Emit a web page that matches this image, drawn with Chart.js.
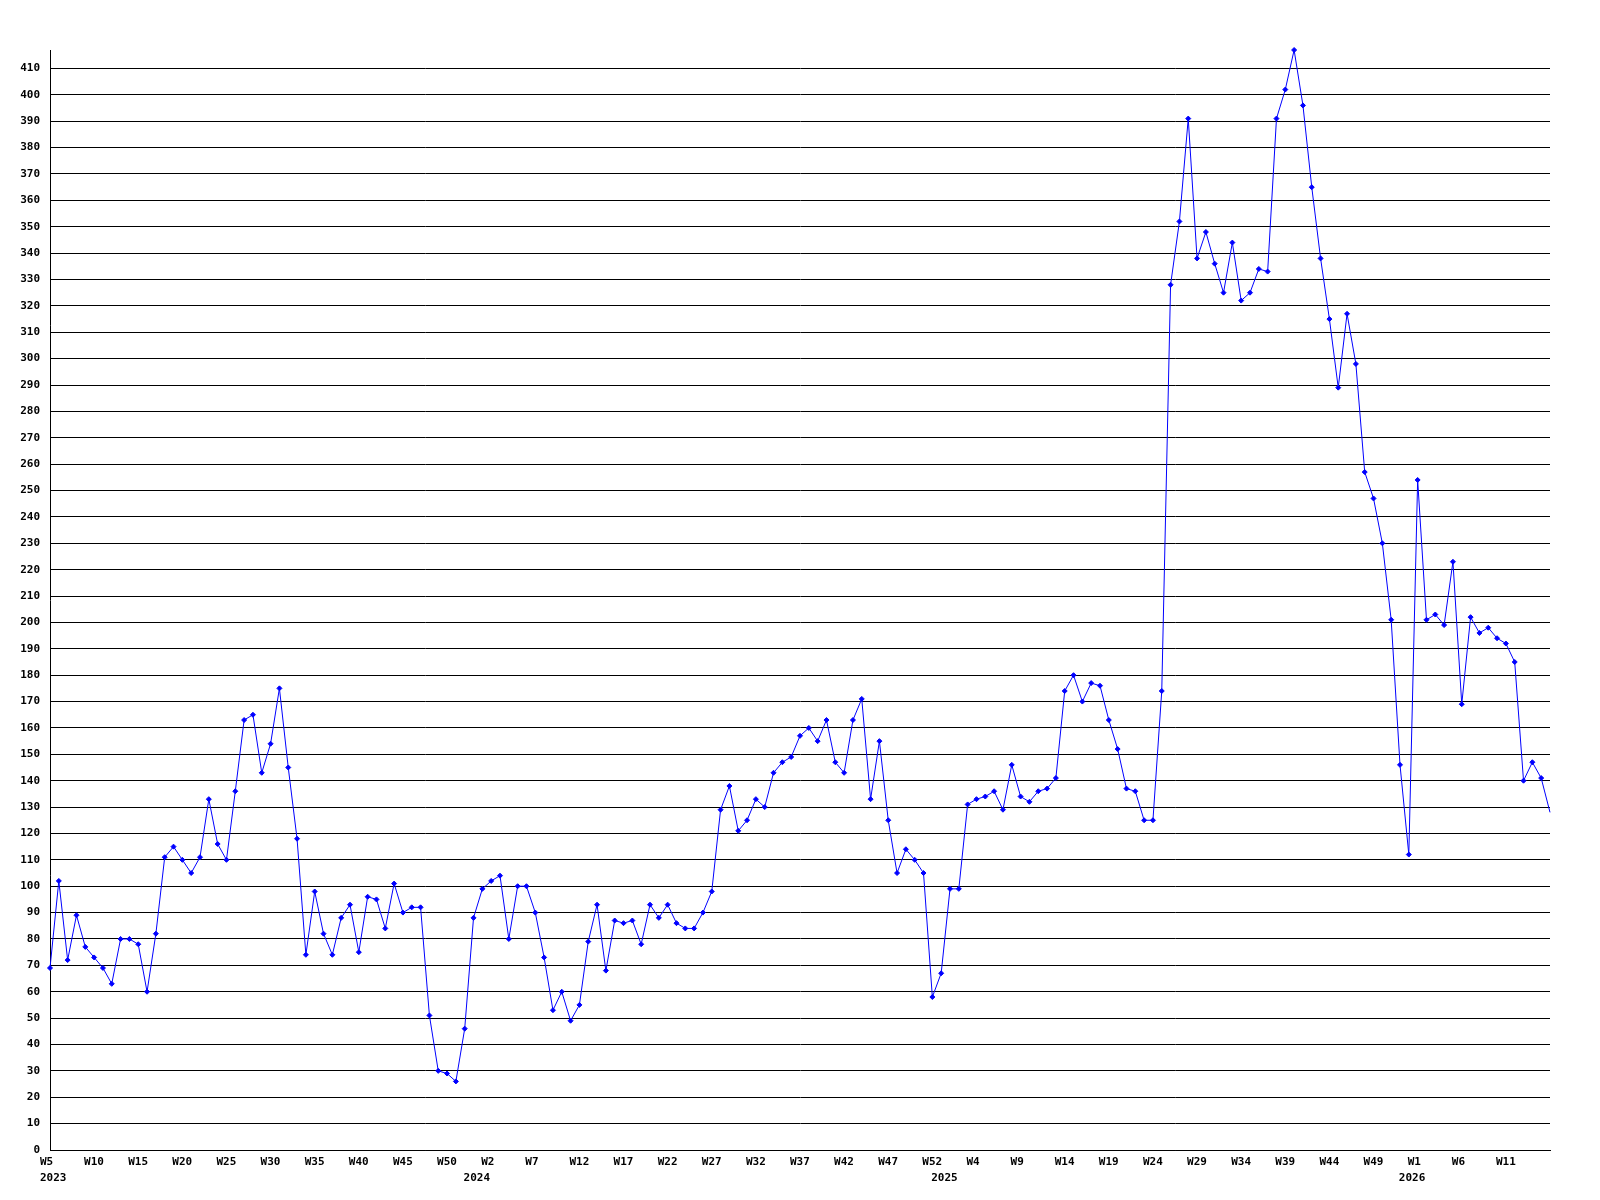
<!DOCTYPE html>
<html>
<head>
<meta charset="utf-8">
<script src="https://cdn.jsdelivr.net/npm/chart.js@4/dist/chart.umd.min.js"></script>
<style>
  body { margin: 0; background: #fff; }
</style>
</head>
<body>
<canvas id="chart" width="1600" height="1200"></canvas>
<script>
// weekly values, one array per year (2023 starts at W5, other years start at W0)
const years = [2023, 2024, 2025, 2026];
const firstWeeks = [5, 0, 0, 0];
const values2023 = [69, 102, 72, 89, 77, 73, 69, 63, 80, 80, 78, 60, 82, 111, 115, 110, 105, 111, 133, 116,
  110, 136, 163, 165, 143, 154, 175, 145, 118, 74, 98, 82, 74, 88, 93, 75, 96, 95, 84, 101,
  90, 92, 92, 51, 30, 29, 26, 46];
const values2024 = [88, 99, 102, 104, 80, 100, 100, 90, 73, 53, 60, 49, 55, 79, 93, 68, 87, 86, 87, 78,
  93, 88, 93, 86, 84, 84, 90, 98, 129, 138, 121, 125, 133, 130, 143, 147, 149, 157, 160, 155,
  163, 147, 143, 163, 171, 133, 155, 125, 105, 114, 110, 105, 58];
const values2025 = [67, 99, 99, 131, 133, 134, 136, 129, 146, 134, 132, 136, 137, 141, 174, 180, 170, 177, 176, 163,
  152, 137, 136, 125, 125, 174, 328, 352, 391, 338, 348, 336, 325, 344, 322, 325, 334, 333, 391, 402,
  417, 396, 365, 338, 315, 289, 317, 298, 257, 247, 230, 201, 146];
const values2026 = [112, 254, 201, 203, 199, 223, 169, 202, 196, 198, 194, 192, 185, 140, 147, 141, 128];
const yearValues = [values2023, values2024, values2025, values2026];
const yTickStep = 10;
const yTickMax = 410;

// build category labels
const weekLabels = [];
const yearOfIndex = [];
const weekOfIndex = [];
const values = [];
yearValues.forEach((arr, y) => {
  arr.forEach((v, i) => {
    const w = firstWeeks[y] + i;
    weekLabels.push('W' + w);
    yearOfIndex.push(years[y]);
    weekOfIndex.push(w);
    values.push(v);
  });
});
const lastIndex = values.length - 1;

const tickFont = { family: 'DejaVu Sans Mono', size: 11, weight: 'bold', lineHeight: 1.2 };

function renderChart() {
  const ctx = document.getElementById('chart').getContext('2d');
  new Chart(ctx, {
    type: 'line',
    data: {
      labels: weekLabels,
      datasets: [{
        data: values,
        borderColor: '#0000ff',
        backgroundColor: '#0000ff',
        borderWidth: 1,
        tension: 0,
        pointStyle: 'rectRot',
        pointRadius: (c) => c.dataIndex === lastIndex ? 0 : 2.5,
        pointBorderWidth: 1,
        clip: false
      }]
    },
    options: {
      responsive: false,
      animation: false,
      layout: { padding: { top: 50, right: 50, bottom: 0, left: 0 } },
      plugins: { legend: { display: false }, tooltip: { enabled: false } },
      scales: {
        x: {
          type: 'category',
          offset: false,
          weight: 0,
          grid: { display: false, drawTicks: false },
          border: { display: true, color: '#000', width: 1 },
          ticks: {
            autoSkip: false, maxRotation: 0, minRotation: 0,
            align: 'start', labelOffset: -10, padding: 6,
            color: '#000', font: tickFont,
            callback: (v, i) => (i % 5 === 0 && i !== lastIndex) ? weekLabels[i] : ''
          },
          afterFit: (s) => { s.height = 20; }
        },
        xYear: {
          type: 'category',
          position: 'bottom',
          offset: false,
          weight: 1,
          grid: { display: false, drawTicks: false },
          border: { display: false },
          ticks: {
            autoSkip: false, maxRotation: 0, minRotation: 0,
            align: 'start', labelOffset: -10, padding: 2,
            color: '#000', font: tickFont,
            callback: (v, i) => (i === 0 || weekOfIndex[i] === 0) ? String(yearOfIndex[i]) : ''
          },
          afterFit: (s) => { s.height = 30; }
        },
        y: {
          min: 0,
          max: 417,
          grid: { color: '#000', lineWidth: 1, drawTicks: false },
          border: { display: true, color: '#000', width: 1 },
          ticks: {
            stepSize: yTickStep, includeBounds: false, padding: 10,
            color: '#000', font: tickFont,
            callback: (v) => v <= yTickMax ? v : ''
          },
          afterFit: (s) => { s.width = 50; }
        }
      }
    }
  });
}
renderChart();
</script>
</body>
</html>
